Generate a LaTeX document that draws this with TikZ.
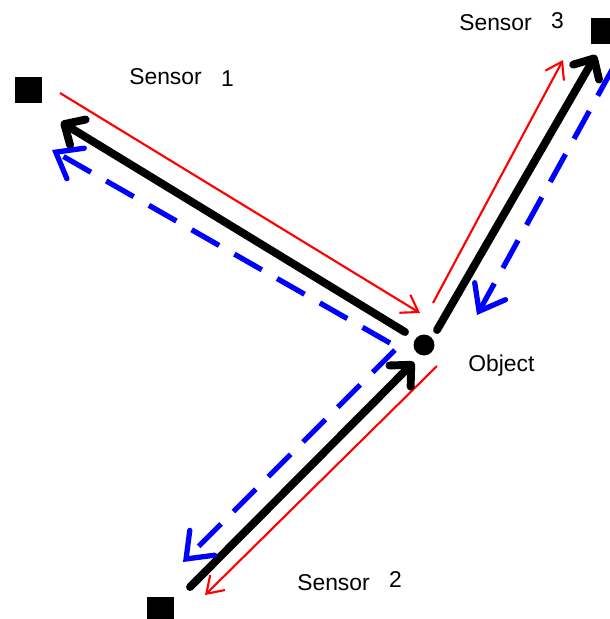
\documentclass[tikz,border=0pt]{standalone}
\usepackage{fontspec}
\setmainfont{Liberation Sans}
\usepackage{tikz}
\usetikzlibrary{arrows.meta, calc}

\begin{document}
\begin{tikzpicture}[x=0.02cm, y=-0.02cm,
  sensor/.style={fill=black, minimum size=0.54cm, inner sep=0pt},
  target/.style={circle, fill=black, minimum size=0.42cm, inner sep=0pt},
  lbl/.style={font=\fontsize{13}{15}\selectfont, inner sep=0pt, anchor=base west},
  blkray/.style={line width=4.5pt, line cap=round, -{Straight Barb[length=9pt, width=17pt, line cap=round, line join=round]}},
  redray/.style={line width=1.2pt, color=red, -{Straight Barb[length=9pt, width=12pt]}},
  bluray/.style={line width=3pt, color=blue, dash pattern=on 18pt off 10pt, -{Straight Barb[length=13pt, width=20pt, line cap=round]}}]
\useasboundingbox (0,0) rectangle (609,619);
% sensors and object
\node[sensor] (s1) at (28.5,90) {};
\node[sensor] (s2) at (160.5,610.5) {};
\node[sensor] (s3) at (604.5,31) {};
\node[target] (obj) at (424,345) {};
\node[lbl] (l1) at (129,84) {Sensor\hspace{11pt}\raisebox{-1.7pt}{1}};
\node[lbl] (l2) at (297,590) {Sensor\hspace{11pt}\raisebox{1.7pt}{2}};
\node[lbl] (l3) at (459,30) {Sensor\hspace{11pt}\raisebox{1pt}{3}};
\node[lbl] (lo) at (468,371) {Object};
% red: sent
\draw[redray] ($(s1)+(31.5,3)$) -- ($(obj)+(-4,-32)$);
\draw[redray] ($(obj)+(13,21)$) -- ($(s2)+(44.5,-15.5)$);
\draw[redray] ($(obj)+(9,-42)$) -- ($(s3)+(-41.5,29)$);
% black
\draw[blkray] ($(obj)+(-19,-13)$) -- ($(s1)+(32.5,32)$);
\draw[blkray] ($(s2)+(29.5,-23.5)$) -- ($(obj)+(-10,17)$);
\draw[blkray] ($(obj)+(13,-15)$) -- ($(s3)+(-8.5,24)$);
% blue dashed
\draw[bluray] ($(obj)+(-34,-2)$) -- ($(s1)+(23.5,60)$);
\draw[bluray] ($(obj)+(-29,5)$) -- ($(s2)+(22.5,-48.5)$);
\draw[bluray] ($(s3)+(8.5,37)$) -- ($(obj)+(53,-30)$);
\end{tikzpicture}
\end{document}
